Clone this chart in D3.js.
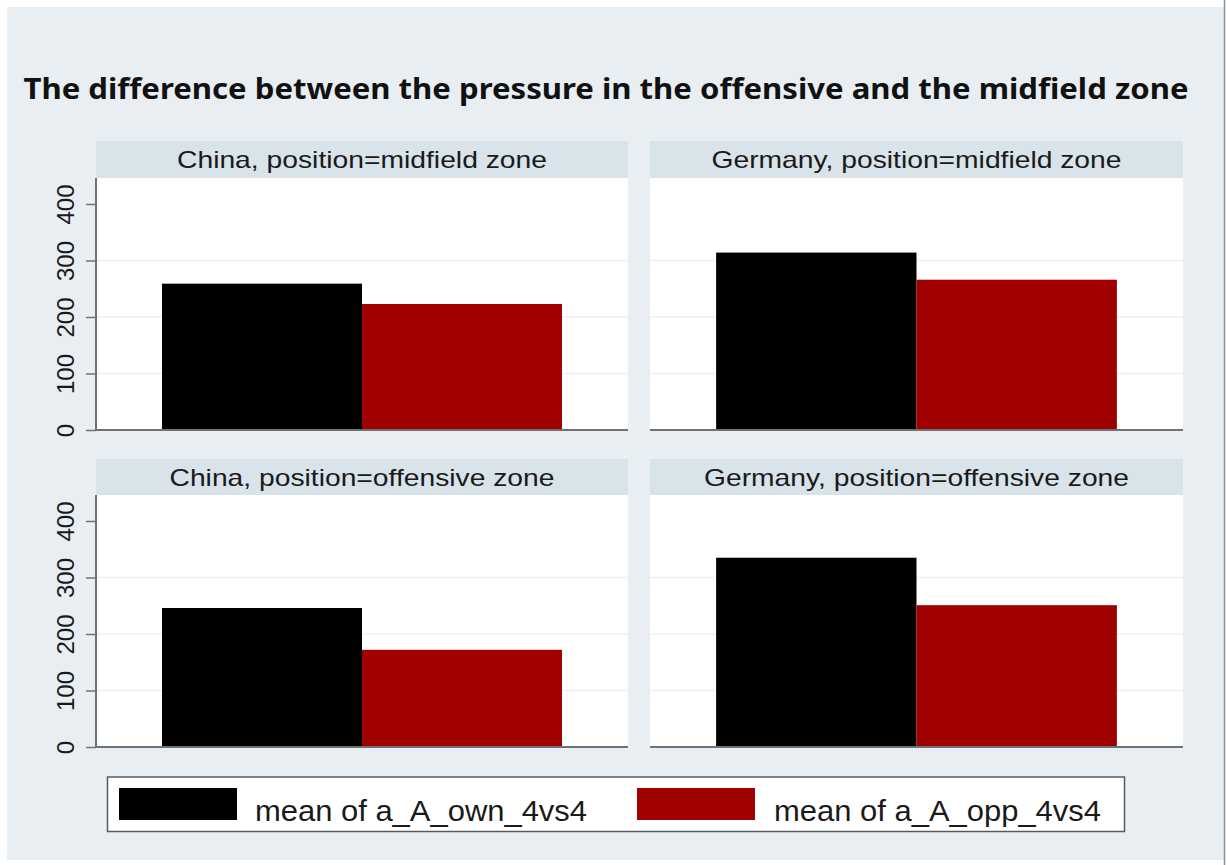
<!DOCTYPE html>
<html>
<head>
<meta charset="utf-8">
<script src="https://cdn.jsdelivr.net/npm/d3@7"></script>
<style>
  html, body { margin: 0; padding: 0; background: #ffffff; }
  svg { display: block; }
</style>
</head>
<body>
<svg id="chart" width="1227" height="865"></svg>
<script>
// ---- data ----
const titleText = "The difference between the pressure in the offensive and the midfield zone";
const countries = ["China", "Germany"];
const positions = ["midfield zone", "offensive zone"];
const seriesNames = ["mean of a_A_own_4vs4", "mean of a_A_opp_4vs4"];
// values per position (rows), per country (cols)
const ownValues = [[259, 314], [246, 335]];   // mean of a_A_own_4vs4
const oppValues = [[223, 266], [172, 251]];   // mean of a_A_opp_4vs4
const yTicks = [0, 100, 200, 300, 400];
const gridTicks = [100, 200, 300];
const yMax = 446;

// ---- layout ----
const W = 1227, H = 865;
const colors = ["#000000", "#a00000"];
const colX = [[96, 628], [650, 1183]];
const rowStrip = [[141, 178], [459, 495]];
const rowPlot = [[178, 430], [495, 747]];
const stripTextW = [[370, 410], [385, 425]];

const svg = d3.select("#chart");

svg.append("rect").attr("x", 0).attr("y", 0).attr("width", W).attr("height", H).attr("fill", "#ffffff");
svg.append("rect").attr("x", 7).attr("y", 7).attr("width", 1218).attr("height", 853).attr("fill", "#e8eef1");
svg.append("line").attr("x1", 1224.5).attr("x2", 1224.5).attr("y1", 0).attr("y2", H)
   .attr("stroke", "#8a8f93").attr("stroke-width", 1.5);

svg.append("text")
  .attr("x", 23.5).attr("y", 99)
  .attr("font-family", "'Noto Sans', 'Open Sans', sans-serif")
  .attr("font-weight", "bold")
  .attr("font-size", 28)
  .attr("fill", "#111")
  .attr("textLength", 1165)
  .attr("lengthAdjust", "spacingAndGlyphs")
  .text(titleText);

positions.forEach((pos, r) => {
  countries.forEach((country, c) => {
    const [x0, x1] = colX[c];
    const [s0, s1] = rowStrip[r];
    const [p0, p1] = rowPlot[r];
    const g = svg.append("g");

    // strip
    g.append("rect").attr("x", x0).attr("y", s0).attr("width", x1 - x0).attr("height", s1 - s0)
      .attr("fill", "#d8e3ea");
    const label = country + ", position=" + pos;
    g.append("text")
      .attr("x", (x0 + x1) / 2).attr("y", s0 + 27)
      .attr("text-anchor", "middle")
      .attr("font-family", "'Liberation Sans', Arial, sans-serif")
      .attr("font-size", 24)
      .attr("fill", "#1a1a1a")
      .attr("textLength", stripTextW[r][c])
      .attr("lengthAdjust", "spacingAndGlyphs")
      .text(label);

    // plot region
    g.append("rect").attr("x", x0).attr("y", p0).attr("width", x1 - x0).attr("height", p1 - p0)
      .attr("fill", "#ffffff");

    const y = d3.scaleLinear().domain([0, yMax]).range([p1, p0]);
    const x = d3.scaleBand().domain(seriesNames).range([x0, x1]).paddingInner(0).paddingOuter(0.33);

    // gridlines
    g.selectAll(".grid").data(gridTicks).enter().append("line")
      .attr("x1", x0).attr("x2", x1)
      .attr("y1", d => y(d)).attr("y2", d => y(d))
      .attr("stroke", "#eaf0f3").attr("stroke-width", 1.5);

    const vals = [ownValues[r][c], oppValues[r][c]];
    g.selectAll(".bar").data(vals).enter().append("rect")
      .attr("x", (d, i) => x(seriesNames[i]))
      .attr("width", x.bandwidth())
      .attr("y", d => y(d))
      .attr("height", d => y(0) - y(d))
      .attr("fill", (d, i) => colors[i]);

    // bottom axis line
    g.append("line").attr("x1", x0).attr("x2", x1).attr("y1", p1).attr("y2", p1)
      .attr("stroke", "#6e7275").attr("stroke-width", 2);

    if (c === 0) {
      const axis = d3.axisLeft(y).tickValues(yTicks).tickSize(10).tickPadding(0).tickFormat(d3.format("d"));
      const ag = g.append("g").attr("transform", `translate(${x0},0)`).call(axis);
      ag.select(".domain").attr("d", `M0,${p0}V${p1}`).attr("stroke", "#6e7275").attr("stroke-width", 2);
      ag.selectAll(".tick line").attr("stroke", "#6e7275").attr("stroke-width", 1.5);
      ag.selectAll(".tick text")
        .attr("x", null)
        .attr("transform", "translate(-22.5,0) rotate(-90)")
        .attr("text-anchor", "middle")
        .attr("font-family", "'Liberation Sans', Arial, sans-serif")
        .attr("font-size", 24)
        .attr("fill", "#1a1a1a")
        .attr("dy", "0em");
    }
  });
});

// legend
const lg = svg.append("g");
lg.append("rect").attr("x", 107.5).attr("y", 777).attr("width", 1017).attr("height", 54.5)
  .attr("fill", "#ffffff").attr("stroke", "#555a5e").attr("stroke-width", 1.5);
const swX = [119, 637], swW = 118, txX = [255, 774], txW = [332, 327];
seriesNames.forEach((s, i) => {
  lg.append("rect").attr("x", swX[i]).attr("y", 788).attr("width", swW).attr("height", 32)
    .attr("fill", colors[i]);
  lg.append("text").attr("x", txX[i]).attr("y", 821)
    .attr("font-family", "'Liberation Sans', Arial, sans-serif")
    .attr("font-size", 29)
    .attr("fill", "#1a1a1a")
    .attr("textLength", txW[i])
    .attr("lengthAdjust", "spacingAndGlyphs")
    .text(s);
});
</script>
</body>
</html>
